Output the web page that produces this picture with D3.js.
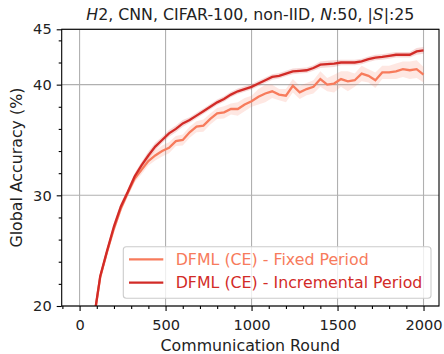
<!DOCTYPE html>
<html><head><meta charset="utf-8">
<script src="https://cdn.jsdelivr.net/npm/d3@7"></script>
<style>body{margin:0;background:#fff}svg{display:block;font-family:"DejaVu Sans",sans-serif}</style>
</head><body><svg id="c" width="444" height="354"></svg>
<script>
const rounds = [80,120,160,200,240,280,320,360,400,440,480,520,560,600,640,680,720,760,800,840,880,920,960,1000,1040,1080,1120,1160,1200,1240,1280,1320,1360,1400,1440,1480,1520,1560,1600,1640,1680,1720,1760,1800,1840,1880,1920,1960,2000];
const fixedMean = [18.5,22.6,24.9,27.0,28.8,30.2,31.5,32.3,33.1,33.6,34.0,34.3,34.9,35.0,35.7,36.2,36.3,36.9,37.4,37.5,37.8,37.8,38.2,38.5,38.9,39.2,39.4,39.1,39.0,39.9,39.3,39.6,39.8,40.5,40.0,40.1,40.5,40.3,40.4,41.0,40.8,40.4,41.1,41.1,41.2,41.4,41.3,41.4,40.9];
const fixedStd = [0.3,0.3,0.3,0.3,0.3,0.35,0.35,0.4,0.4,0.45,0.5,0.5,0.45,0.5,0.5,0.5,0.55,0.5,0.5,0.55,0.5,0.6,0.6,0.5,0.7,0.8,0.6,0.5,0.6,0.6,0.6,0.55,0.6,0.7,0.6,0.8,0.7,0.9,0.6,0.7,0.6,0.7,0.6,0.6,0.7,0.7,0.8,0.8,0.7];
const incrMean = [18.5,22.7,25.0,27.2,29.0,30.3,31.7,32.7,33.6,34.4,35.0,35.6,36.0,36.5,36.8,37.2,37.6,38.0,38.4,38.7,39.1,39.4,39.6,39.8,40.1,40.4,40.7,40.8,41.0,41.2,41.25,41.3,41.5,41.8,41.85,41.9,42.0,42.0,42.0,42.1,42.3,42.45,42.5,42.6,42.7,42.7,42.7,43.0,43.1];
const incrStd = [0.3,0.3,0.3,0.3,0.3,0.3,0.3,0.3,0.35,0.35,0.3,0.3,0.3,0.3,0.25,0.25,0.25,0.25,0.25,0.25,0.25,0.25,0.25,0.25,0.25,0.25,0.25,0.25,0.25,0.25,0.25,0.25,0.25,0.3,0.3,0.3,0.25,0.25,0.25,0.25,0.25,0.25,0.25,0.25,0.25,0.25,0.25,0.3,0.3];
const seriesNames = ["DFML (CE) - Fixed Period","DFML (CE) - Incremental Period"];
const seriesColors = ["#f77b5c","#d22b27"];
const xTicks = [0,500,1000,1500,2000];
const yTicks = [20,30,40,45];
const yMinor = [22,24,26,28,32,34,36,38,42,44];

const svg = d3.select("#c");
const L=61.7,R=439,T=29.3,B=306;
const x = d3.scaleLinear().domain([-104,2090]).range([L,R]);
const y = d3.scaleLinear().domain([20,45]).range([B,T]);
const xMinor = d3.range(-100,2100,100).filter(v=>v%500!==0);
const FS="15.8px", TFS="14.6px";

svg.append("defs").append("clipPath").attr("id","clip").append("rect")
  .attr("x",L).attr("y",T).attr("width",R-L).attr("height",B-T);

const g = svg.append("g");
g.selectAll(".gx").data(xTicks).join("line").attr("x1",d=>x(d)).attr("x2",d=>x(d)).attr("y1",T).attr("y2",B).attr("stroke","#b0b0b0").attr("stroke-width",1.1);
g.selectAll(".gy").data(yTicks).join("line").attr("y1",d=>y(d)).attr("y2",d=>y(d)).attr("x1",L).attr("x2",R).attr("stroke","#b0b0b0").attr("stroke-width",1.1);

const plot = svg.append("g").attr("clip-path","url(#clip)");
const series = [
  {m:fixedMean,s:fixedStd,c:seriesColors[0]},
  {m:incrMean,s:incrStd,c:seriesColors[1]}
];
series.forEach(sr=>{
  const pts = rounds.map((r,i)=>({r,m:sr.m[i],s:sr.s[i]}));
  plot.append("path").datum(pts).attr("fill",sr.c).attr("fill-opacity",0.18)
    .attr("d",d3.area().x(d=>x(d.r)).y0(d=>y(d.m-d.s)).y1(d=>y(d.m+d.s)));
});
series.forEach(sr=>{
  const pts = rounds.map((r,i)=>({r,m:sr.m[i]}));
  plot.append("path").datum(pts).attr("fill","none").attr("stroke",sr.c).attr("stroke-width",2.3)
    .attr("d",d3.line().x(d=>x(d.r)).y(d=>y(d.m)));
});

const xa = svg.append("g").attr("transform",`translate(0,${B})`)
  .call(d3.axisBottom(x).tickValues(xTicks).tickSize(5).tickPadding(4).tickFormat(d3.format("d")));
const xm = svg.append("g").attr("transform",`translate(0,${B})`)
  .call(d3.axisBottom(x).tickValues(xMinor).tickSize(3).tickFormat(""));
const ya = svg.append("g").attr("transform",`translate(${L},0)`)
  .call(d3.axisLeft(y).tickValues(yTicks).tickSize(5).tickPadding(5).tickFormat(d3.format("d")));
const ym = svg.append("g").attr("transform",`translate(${L},0)`)
  .call(d3.axisLeft(y).tickValues(yMinor).tickSize(3).tickFormat(""));
[xa,xm,ya,ym].forEach(a=>{a.select(".domain").remove();a.selectAll("line").attr("stroke","#000").attr("stroke-width",1.1);
  a.selectAll("text").attr("font-size",TFS).attr("font-family","DejaVu Sans").attr("fill","#222");});
xa.selectAll("text").attr("dy",null).attr("y",24);
svg.append("rect").attr("x",L).attr("y",T).attr("width",R-L).attr("height",B-T).attr("fill","none").attr("stroke","#000").attr("stroke-width",1.1);

svg.append("text").attr("x",(L+R)/2).attr("y",351).attr("text-anchor","middle").attr("font-size",FS).attr("fill","#222").text("Communication Round");
svg.append("text").attr("transform",`translate(22,${(T+B)/2}) rotate(-90)`).attr("text-anchor","middle").attr("font-size",FS).attr("fill","#222").text("Global Accuracy (%)");
const title = svg.append("text").attr("x",(L+R)/2).attr("y",20).attr("text-anchor","middle").attr("font-size",FS).attr("fill","#222");
title.append("tspan").attr("font-style","italic").text("H");
title.append("tspan").text("2, CNN, CIFAR-100, non-IID, ");
title.append("tspan").attr("font-style","italic").text("N");
title.append("tspan").text(":50, |");
title.append("tspan").attr("font-style","italic").attr("font-family","DejaVu Serif").text("S");
title.append("tspan").text("|:25");

const lg = svg.append("g");
lg.append("rect").attr("x",123.3).attr("y",246.7).attr("width",307.7).attr("height",51.6).attr("rx",3)
  .attr("fill","#fff").attr("fill-opacity",0.8).attr("stroke","#cccccc").attr("stroke-width",1.1);
seriesNames.forEach((n,i)=>{
  const yy = 259.3 + i*23.4;
  lg.append("line").attr("x1",129).attr("x2",163.3).attr("y1",yy).attr("y2",yy).attr("stroke",seriesColors[i]).attr("stroke-width",2.3);
  lg.append("text").attr("x",175.7).attr("y",yy+5.5).attr("font-size",FS).attr("fill",seriesColors[i]).text(n);
});
</script></body></html>
